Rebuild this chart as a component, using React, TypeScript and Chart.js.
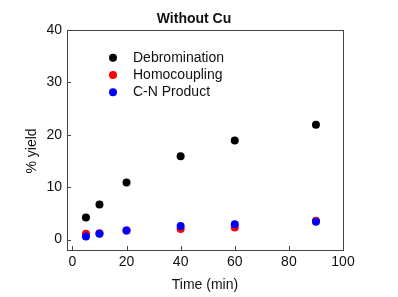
import React, { useEffect, useRef } from "react";
import { Chart, registerables } from "chart.js";

Chart.register(...registerables);

const timesMin = [5, 10, 20, 40, 60, 90];
const debromination = [4.2, 6.7, 10.9, 15.9, 18.9, 21.9];
const homocoupling = [1.1, 1.2, 1.7, 2.0, 2.3, 3.6];
const cnProduct = [0.6, 1.1, 1.7, 2.6, 2.9, 3.4];
const xTicks = [0, 20, 40, 60, 80, 100];
const yTicks = [0, 10, 20, 30, 40];
const seriesLabels = ["Debromination", "Homocoupling", "C-N Product"];
const seriesColors = ["#000000", "#ff0000", "#0000ff"];

const FONT = '"Liberation Sans", Arial, sans-serif';

const framePlugin = {
  id: "frameAndLegend",
  afterDraw(chart: any) {
    const { ctx, chartArea } = chart;
    const { left, right, top, bottom } = chartArea;
    ctx.save();
    // frame
    ctx.strokeStyle = "#444";
    ctx.lineWidth = 1;
    ctx.strokeRect(Math.round(left) + 0.5, Math.round(top) + 0.5, Math.round(right - left), Math.round(bottom - top));
    // inward ticks
    const xs = chart.scales.x;
    const ys = chart.scales.y;
    ctx.beginPath();
    xs.ticks.forEach((t: any) => {
      const px = Math.round(xs.getPixelForValue(t.value)) + 0.5;
      ctx.moveTo(px, bottom);
      ctx.lineTo(px, bottom - 4);
    });
    ys.ticks.forEach((t: any) => {
      const py = Math.round(ys.getPixelForValue(t.value)) + 0.5;
      ctx.moveTo(left, py);
      ctx.lineTo(left + 4, py);
    });
    ctx.stroke();

    // title
    ctx.fillStyle = "#111";
    ctx.font = `bold 14px ${FONT}`;
    ctx.textAlign = "center";
    ctx.textBaseline = "middle";
    ctx.fillText("Without Cu", 194, 19.5);

    // y axis title
    ctx.save();
    ctx.translate(left - 35, (top + bottom) / 2 + 11);
    ctx.rotate(-Math.PI / 2);
    ctx.font = `14px ${FONT}`;
    ctx.fillText("% yield", 0, 0);
    ctx.restore();

    // legend
    const lx = left + 46;
    const ly = top + 27.7;
    chart.data.datasets.forEach((ds: any, i: number) => {
      const y = ly + i * 17.3;
      ctx.beginPath();
      ctx.fillStyle = ds.backgroundColor;
      ctx.arc(lx, y, 4, 0, Math.PI * 2);
      ctx.fill();
      ctx.fillStyle = "#111";
      ctx.font = `14px ${FONT}`;
      ctx.textAlign = "left";
      ctx.textBaseline = "middle";
      ctx.fillText(ds.label, lx + 20, y);
    });
    ctx.restore();
  },
};

export default function App() {
  const ref = useRef<HTMLCanvasElement | null>(null);
  useEffect(() => {
    if (!ref.current) return;
    const mk = (i: number, vals: number[], order: number) => ({
      label: seriesLabels[i],
      data: timesMin.map((t, k) => ({ x: t, y: vals[k] })),
      backgroundColor: seriesColors[i],
      borderColor: seriesColors[i],
      pointRadius: 4,
      pointBorderWidth: 0,
      showLine: false,
      order,
    });
    const chart = new Chart(ref.current, {
      type: "scatter",
      data: {
        datasets: [mk(0, debromination, 1), mk(1, homocoupling, 2), mk(2, cnProduct, 0)],
      },
      plugins: [framePlugin],
      options: {
        animation: false,
        responsive: false,
        layout: { padding: { left: 0, right: 55, top: 30, bottom: 0 } },
        plugins: { legend: { display: false }, title: { display: false }, tooltip: { enabled: false } },
        scales: {
          x: {
            type: "linear",
            min: -2,
            max: 100,
            afterBuildTicks: (s: any) => {
              s.ticks = xTicks.map((v) => ({ value: v }));
            },
            afterFit: (s: any) => {
              s.height = 47;
            },
            grid: { display: false, drawTicks: false },
            border: { display: false },
            ticks: { color: "#111", font: { family: FONT, size: 14 }, padding: 4, maxRotation: 0, autoSkip: false },
            title: { display: true, text: "Time (min)", color: "#111", font: { family: FONT, size: 14 }, padding: { top: 0, bottom: 3 } },
          },
          y: {
            type: "linear",
            min: -2,
            max: 40,
            afterBuildTicks: (s: any) => {
              s.ticks = yTicks.map((v) => ({ value: v }));
            },
            afterFit: (s: any) => {
              s.width = 67;
            },
            grid: { display: false, drawTicks: false },
            border: { display: false },
            ticks: { color: "#111", font: { family: FONT, size: 14 }, padding: 5, autoSkip: false },
          },
        },
      },
    } as any);
    return () => chart.destroy();
  }, []);
  return (
    <div style={{ position: "absolute", left: 0, top: 0, width: 398, height: 297, background: "#fff" }}>
      <canvas ref={ref} width={398} height={297} style={{ width: 398, height: 297 }} />
    </div>
  );
}
